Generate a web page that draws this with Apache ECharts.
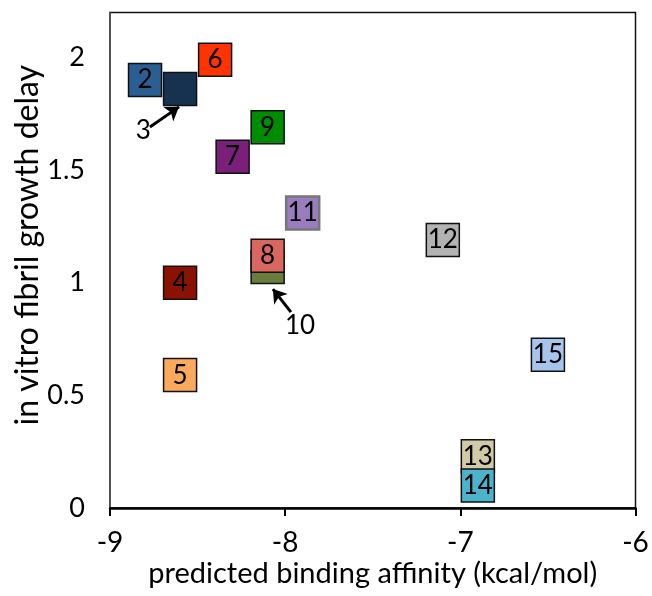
<!DOCTYPE html>
<html>
<head>
<meta charset="utf-8">
<script src="https://cdn.jsdelivr.net/npm/echarts@6/dist/echarts.min.js"></script>
<style>
  html, body { margin: 0; padding: 0; background: #fff; }
  #chart { width: 652px; height: 596px; }
</style>
</head>
<body>
<div id="chart"></div>
<script>
// Compound numbers, drawn in this order (10 under 8, 13 under 14)
const compounds = ['2', '3', '4', '5', '6', '7', '10', '8', '9', '11', '12', '13', '14', '15'];
// predicted binding affinity (kcal/mol)
const affinity = [-8.80, -8.60, -8.60, -8.60, -8.40, -8.30, -8.10, -8.10, -8.10, -7.90, -7.10, -6.90, -6.90, -6.50];
// in vitro fibril growth delay
const delay = [1.90, 1.86, 1.00, 0.59, 1.99, 1.56, 1.07, 1.12, 1.69, 1.31, 1.19, 0.23, 0.10, 0.68];
const fills = ['#2b5f94', '#17324f', '#8b1200', '#fbaa5c', '#ff3300', '#7a1f7a', '#6b7d3c', '#d9675f',
               '#008c00', '#9b7dbf', '#b3b3b3', '#d2c9a6', '#4bb4cc', '#a6c4ec'];
// compounds whose numbers are written beside the square with an arrow
const callouts = ['3', '10'];
const calloutText = [[-8.81, 1.674], [-7.915, 0.808]];
const arrowTail = [[-8.772, 1.692], [-7.967, 0.870]];
const arrowHead = [[-8.606, 1.781], [-8.070, 0.972]];

const xTicks = [-9, -8, -7, -6];
const yTicks = [0, 0.5, 1, 1.5, 2];

const FONT = 'Lato';

const points = compounds.map((c, i) => ({
  name: c,
  value: [affinity[i], delay[i]],
  itemStyle: {
    color: fills[i],
    opacity: 1,
    borderColor: c === '11' ? '#777' : '#111',
    borderWidth: c === '11' ? 2.5 : 1.5
  },
  label: { show: callouts.indexOf(c) < 0 }
}));

const chart = echarts.init(document.getElementById('chart'));
chart.setOption({
  animation: false,
  grid: {
    left: 110, right: 16.5, top: 12.5, bottom: 88,
    containLabel: false,
    outerBoundsMode: 'none',
    show: true, borderColor: '#111', borderWidth: 1.5
  },
  xAxis: {
    type: 'value', min: -9, max: -6, interval: 1,
    name: 'predicted binding affinity (kcal/mol)',
    nameLocation: 'middle', nameGap: 51,
    nameMoveOverlap: false,
    nameTextStyle: { fontFamily: FONT, fontSize: 29, color: '#000' },
    axisLine: { show: true, onZero: false, lineStyle: { color: '#000', width: 2.5 } },
    axisTick: { show: true, inside: false, length: 8, lineStyle: { color: '#000', width: 2 } },
    axisLabel: {
      fontFamily: FONT, fontSize: 28, color: '#000', margin: 21,
      formatter: v => (xTicks.indexOf(v) >= 0 ? String(v) : '')
    },
    splitLine: { show: false }
  },
  yAxis: {
    type: 'value', min: 0, max: 2.2, interval: 0.5,
    name: 'in vitro fibril growth delay',
    nameLocation: 'middle', nameGap: 66, nameRotate: 90,
    nameMoveOverlap: false,
    nameTextStyle: { fontFamily: FONT, fontSize: 32, color: '#000', padding: [0, 0, 0, 30] },
    axisLine: { show: true, lineStyle: { color: '#555', width: 1.5 } },
    axisTick: { show: false },
    axisLabel: {
      fontFamily: FONT, fontSize: 27, color: '#000', margin: 25,
      showMaxLabel: false,
      formatter: v => (yTicks.indexOf(Math.round(v * 10) / 10) >= 0 && Math.abs(v * 2 - Math.round(v * 2)) < 1e-6 ? String(v) : '')
    },
    splitLine: { show: false }
  },
  series: [
    {
      type: 'scatter',
      symbol: 'rect',
      symbolSize: 33,
      data: points,
      label: {
        show: true, position: 'inside',
        formatter: p => p.name,
        fontFamily: FONT, fontSize: 26, color: '#000'
      },
      emphasis: { disabled: true },
      z: 3
    },
    {
      type: 'scatter',
      symbolSize: 1,
      itemStyle: { color: 'rgba(0,0,0,0)', opacity: 1 },
      data: callouts.map((c, i) => ({ name: c, value: calloutText[i] })),
      label: {
        show: true, position: 'inside',
        formatter: p => p.name,
        fontFamily: FONT, fontSize: 26, color: '#000'
      },
      markLine: {
        silent: true,
        symbol: ['none', 'arrow'],
        symbolSize: 13,
        label: { show: false },
        lineStyle: { color: '#000', width: 3, type: 'solid', opacity: 1 },
        data: arrowTail.map((t, i) => [{ coord: t }, { coord: arrowHead[i] }])
      },
      emphasis: { disabled: true },
      z: 4
    }
  ]
});
</script>
</body>
</html>
